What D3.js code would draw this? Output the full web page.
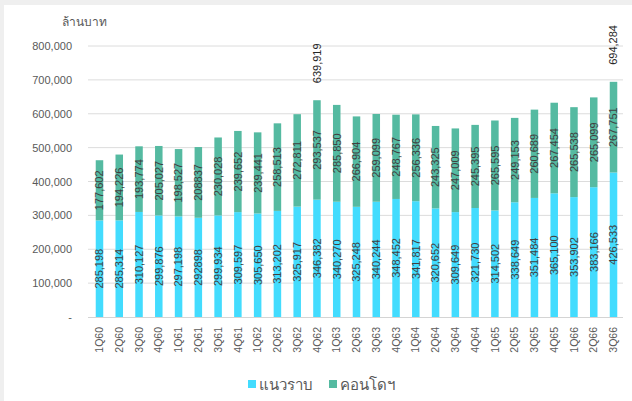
<!DOCTYPE html>
<html>
<head>
<meta charset="utf-8">
<script src="https://cdn.jsdelivr.net/npm/d3@7"></script>
<style>
  html, body { margin: 0; padding: 0; background: #efefef; }
  svg { display: block; }
  text { font-family: "Liberation Sans", Arial, "DejaVu Sans", sans-serif; }
</style>
</head>
<body>
<svg id="chart" width="632" height="401"></svg>
<script>
// Quarterly housing value (million baht): low-rise vs condominium
const categories = ["1Q60","2Q60","3Q60","4Q60","1Q61","2Q61","3Q61","4Q61","1Q62","2Q62","3Q62","4Q62",
  "1Q63","2Q63","3Q63","4Q63","1Q64","2Q64","3Q64","4Q64","1Q65","2Q65","3Q65","4Q65","1Q66","2Q66","3Q66"];
const lowRise = [285198,285314,310127,299876,297198,292898,299934,309597,305650,313202,325917,346382,
  340270,325248,340244,348452,341817,320652,309649,321730,314502,338649,351484,365100,353902,383166,426533];
const condo = [177602,194226,193774,205027,198527,208837,230028,239652,239441,258513,272811,293537,
  285850,266904,259099,248767,256336,243325,247009,245395,265595,249153,260689,267454,265538,265099,267751];
const yTicks = [0,100000,200000,300000,400000,500000,600000,700000,800000];
const totalLabelled = ["4Q62","3Q66"];
const seriesNames = ["แนวราบ","คอนโดฯ"];
const unitLabel = "ล้านบาท";
// quarters whose value labels are written without thousands separators
const plainNumberCats = ["2Q61"];

const colors = ["#43DCFE", "#55BAA1"];

const svg = d3.select("#chart");
svg.append("rect").attr("x", 4).attr("y", 5).attr("width", 628).attr("height", 396).attr("fill", "#ffffff");

const x = d3.scaleBand().domain(categories).range([89.6, 623.4]).paddingInner(0.62).paddingOuter(0.31);
const y = d3.scaleLinear().domain([0, 800000]).range([317, 46]);
const fmt = d3.format(",");
const fmtFor = (cat, v) => plainNumberCats.includes(cat) ? String(v) : fmt(v);

// gridlines
svg.append("g").selectAll("line").data(yTicks.filter(d => d > 0)).join("line")
  .attr("x1", 88).attr("x2", 623).attr("y1", d => y(d)).attr("y2", d => y(d))
  .attr("stroke", "#dcdcdc").attr("stroke-width", 1);

// y axis
const yAxis = d3.axisLeft(y).tickValues(yTicks).tickSize(0).tickPadding(0)
  .tickFormat(d => d === 0 ? "-" : fmt(d));
const gy = svg.append("g").attr("transform", "translate(72,0)").call(yAxis);
gy.select(".domain").remove();
gy.selectAll("text").attr("fill", "#595959").style("font-size", "11px")
  .style("font-family", "'Liberation Sans', Arial, sans-serif");

svg.append("text").attr("x", 62).attr("y", 26).attr("fill", "#595959")
  .style("font-size", "12px").style("font-family", "'DejaVu Sans', 'Noto Sans', sans-serif").text(unitLabel);

// stacked bars
const rows = categories.map((c, i) => ({ cat: c, lowRise: lowRise[i], condo: condo[i] }));
const stack = d3.stack().keys(["lowRise", "condo"])(rows);

const layers = svg.append("g").selectAll("g").data(stack).join("g").attr("fill", (d, i) => colors[i]);
layers.selectAll("rect").data(d => d).join("rect")
  .attr("x", d => x(d.data.cat))
  .attr("width", x.bandwidth())
  .attr("y", d => y(d[1]))
  .attr("height", d => y(d[0]) - y(d[1]));

// x axis baseline
svg.append("line").attr("x1", 88).attr("x2", 623).attr("y1", y(0) + 0.5).attr("y2", y(0) + 0.5)
  .attr("stroke", "#d4d4d4");

// segment value labels
stack.forEach(layer => {
  svg.append("g").selectAll("text").data(layer).join("text")
    .attr("transform", d => `translate(${x(d.data.cat) + x.bandwidth() / 2},${(y(d[0]) + y(d[1])) / 2}) rotate(-90)`)
    .attr("text-anchor", "middle").attr("dy", "0.35em")
    .attr("fill", "#404040").style("font-size", "11px")
    .text(d => fmtFor(d.data.cat, d[1] - d[0]));
});

// totals above selected bars
svg.append("g").selectAll("text").data(rows.filter(r => totalLabelled.includes(r.cat))).join("text")
  .attr("transform", d => `translate(${x(d.cat) + x.bandwidth() / 2},${y(d.lowRise + d.condo) - 17}) rotate(-90)`)
  .attr("text-anchor", "start").attr("dy", "0.35em")
  .attr("fill", "#262626").style("font-size", "11px")
  .text(d => fmt(d.lowRise + d.condo));

// category labels
svg.append("g").selectAll("text").data(categories).join("text")
  .attr("transform", d => `translate(${x(d) + x.bandwidth() / 2},327) rotate(-90)`)
  .attr("text-anchor", "end").attr("dy", "0.35em")
  .attr("fill", "#595959").style("font-size", "10.5px")
  .text(d => d);

// legend
const legend = svg.append("g");
const legendItems = [{ name: seriesNames[0], x: 248, color: colors[0] }, { name: seriesNames[1], x: 329, color: colors[1] }];
legendItems.forEach(it => {
  legend.append("rect").attr("x", it.x).attr("y", 380).attr("width", 8).attr("height", 8).attr("fill", it.color);
  legend.append("text").attr("x", it.x + 11).attr("y", 390).attr("fill", "#595959")
    .style("font-size", "15px").style("font-family", "'DejaVu Sans', 'Noto Sans', sans-serif").text(it.name);
});
</script>
</body>
</html>
